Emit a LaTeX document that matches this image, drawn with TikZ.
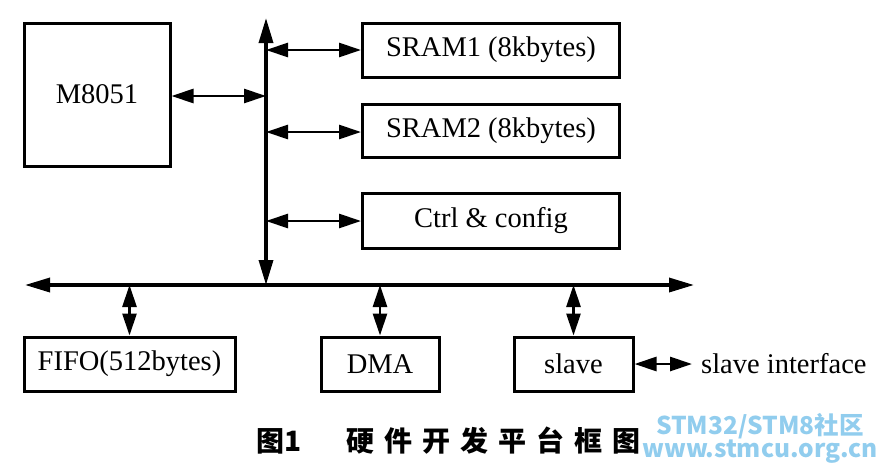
\documentclass[tikz,border=0pt]{standalone}
\usepackage{fontspec}
\setmainfont{Liberation Serif}
\newfontfamily\cjk{Noto Sans CJK SC}
\newfontfamily\cjkcap[LetterSpace=36]{Noto Sans CJK SC}
\usetikzlibrary{arrows.meta}
\definecolor{wmblue}{RGB}{145,205,238}
\begin{document}
\begin{tikzpicture}[x=1pt,y=-1pt,
  blk/.style={draw,line width=3pt,inner sep=0pt,font=\fontsize{28.5}{30}\selectfont},
  conn/.style={line width=2.8pt,{Triangle[length=22pt,width=14pt]}-{Triangle[length=22pt,width=14pt]}},
  busline/.style={line width=3.4pt,{Triangle[length=25pt,width=14pt]}-{Triangle[length=25pt,width=14pt]}},
  lbl/.style={font=\fontsize{28.5}{30}\selectfont,inner sep=0pt}]
\useasboundingbox (0,0) rectangle (881,472);
\fill[white] (0,0) rectangle (881,472);
% blocks
\node[blk,minimum width=146pt,minimum height=143pt] (m8051) at (97,94.5) {M8051};
\node[blk,minimum width=257pt,minimum height=54pt] (sram1) at (491,50) {SRAM1 (8kbytes)};
\node[blk,minimum width=257pt,minimum height=53pt] (sram2) at (491,130.5) {SRAM2 (8kbytes)};
\node[blk,minimum width=257pt,minimum height=55pt] (ctrl) at (491,220.5) {Ctrl \& config};
\node[blk,minimum width=211pt,minimum height=54pt] (fifo) at (129.5,364) {FIFO(512bytes)};
\node[blk,minimum width=118pt,minimum height=54pt] (dma) at (380,364) {DMA};
\node[blk,minimum width=119pt,minimum height=54pt] (slave) at (573.5,364) {slave};
\node[lbl,anchor=west] (sif) at (701,364) {slave interface};
% bus coordinates
\coordinate (vtop) at (266,18);
\coordinate (vbot) at (266,285);
\coordinate (hl) at (25,285);
\coordinate (hr) at (694,285);
\coordinate (jm) at (266,96);
\coordinate (j1) at (266,50);
\coordinate (j2) at (266,132);
\coordinate (j3) at (266,221);
\coordinate (sifend) at (692,364);
% buses
\draw[busline] (vtop) -- (vbot);
\draw[busline] (hl) -- (hr);
% connectors
\draw[conn] (jm -| m8051.east) -- (jm);
\draw[conn] (j1) -- (j1 -| sram1.west);
\draw[conn] (j2) -- (j2 -| sram2.west);
\draw[conn] (j3) -- (j3 -| ctrl.west);
\draw[conn] (fifo.north |- hl) -- (fifo.north);
\draw[conn] (dma.north |- hl) -- (dma.north);
\draw[conn] (slave.north |- hl) -- (slave.north);
\draw[conn] (slave.east) -- (sifend);
% caption
\node[inner sep=0pt,anchor=west,font=\cjk\bfseries\fontsize{28}{30}\selectfont] (cap1) at (256,441) {图1};
\node[inner sep=0pt,font=\cjkcap\bfseries\fontsize{28}{30}\selectfont,anchor=west] (cap2) at (346,441) {硬件开发平台框图};
% watermark
\node[inner sep=0pt,align=center,text=wmblue,font=\cjk\bfseries\fontsize{24.5}{21}\selectfont] (wm) at (760,438) {STM32/STM8社区\\www.stmcu.org.cn};
\end{tikzpicture}
\end{document}
